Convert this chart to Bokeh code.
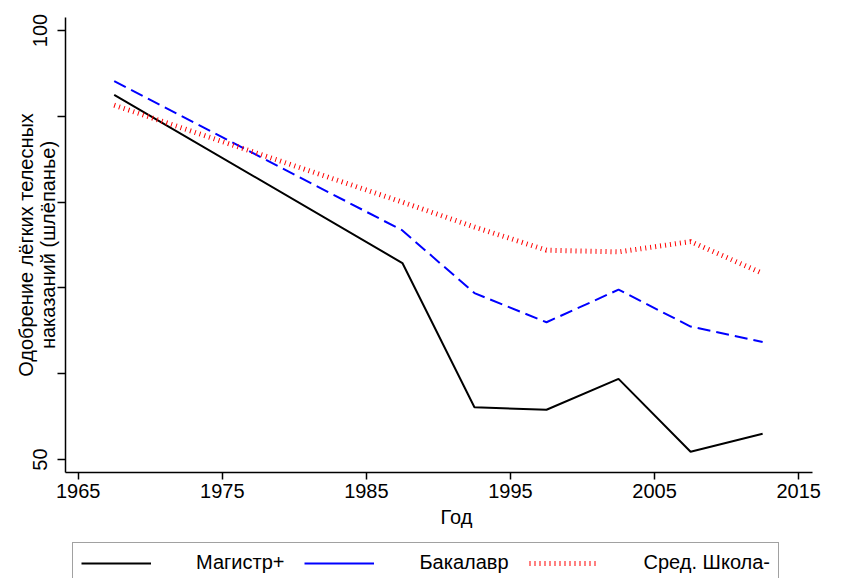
from bokeh.plotting import figure
from bokeh.layouts import column
from bokeh.models import FixedTicker, Range1d, Legend, LegendItem, Title
from bokeh.embed import file_html
from bokeh.resources import INLINE

# ---- data ----
years = [1967.5, 1987.5, 1992.5, 1997.5, 2002.5, 2007.5, 2012.5]
masters = [92.5, 72.9, 56.1, 55.8, 59.4, 50.9, 53.0]
bachelor = [94.1, 76.7, 69.4, 66.0, 69.8, 65.5, 63.7]
highschool = [91.3, 80.0, 77.1, 74.4, 74.2, 75.4, 71.7]
series_names = ["Магистр+", "Бакалавр", "Сред. Школа-"]
x_ticks = [1965, 1975, 1985, 1995, 2005, 2015]
y_ticks = [50, 60, 70, 80, 90, 100]
y_tick_labels = {50: "50", 60: "", 70: "", 80: "", 90: "", 100: "100"}
x_title = "Год"
y_title = "Одобрение лёгких телесных\nнаказаний (шлёпанье)"

FONT = "Liberation Sans"
STYLES = [dict(line_color="black", line_width=2),
          dict(line_color="blue", line_width=2, line_dash="13 6"),
          dict(line_color="red", line_width=5, line_dash="1 4")]
KEY_STYLES = [dict(line_color="black", line_width=2),
              dict(line_color="blue", line_width=2),
              dict(line_color="red", line_width=5, line_dash="1 4")]

p = figure(width=849, height=539, output_backend="svg", toolbar_location=None,
           x_range=Range1d(1964.12, 2015.96), y_range=Range1d(48.49, 101.52),
           min_border_left=65, min_border_right=37, min_border_top=17,
           min_border_bottom=67)
p.xgrid.visible = False
p.ygrid.visible = False
p.outline_line_color = None
p.background_fill_color = "white"
p.border_fill_color = "white"

xa = p.xaxis[0]
xa.ticker = FixedTicker(ticks=x_ticks, minor_ticks=[])
ya = p.yaxis[0]
ya.ticker = FixedTicker(ticks=y_ticks, minor_ticks=[])
ya.major_label_overrides = y_tick_labels
ya.major_label_orientation = "vertical"

for ax in (xa, ya):
    ax.axis_line_color = "black"
    ax.axis_line_width = 1.5
    ax.major_tick_line_color = "black"
    ax.major_tick_line_width = 1.5
    ax.major_tick_in = 0
    ax.minor_tick_in = 0
    ax.minor_tick_out = 0
    ax.major_label_text_font = FONT
    ax.major_label_text_font_size = "20px"
    ax.major_label_text_color = "black"
    ax.axis_label_text_font = FONT
    ax.axis_label_text_font_size = "20px"
    ax.axis_label_text_font_style = "normal"
    ax.axis_label_text_color = "black"
xa.major_tick_out = 7
xa.major_label_standoff = 4
ya.major_tick_out = 8
ya.major_label_standoff = 10
ya.axis_label = y_title
ya.axis_label_text_line_height = 1.0
ya.axis_label_standoff = -28

# x-axis title, placed slightly right of centre as in the reference
p.add_layout(Title(text=x_title, align="left", offset=375, standoff=10,
                   vertical_align="top", text_font=FONT, text_font_size="20px",
                   text_font_style="normal", text_color="black"), "below")

# ---- series ----
for vals, st in zip([masters, bachelor, highschool], STYLES):
    p.line(years, vals, **st)

# ---- legend strip below the chart ----
lg = figure(width=849, height=39, output_backend="svg", toolbar_location=None,
            x_range=Range1d(0, 1), y_range=Range1d(0, 1),
            x_axis_type=None, y_axis_type=None, min_border=0)
lg.xgrid.visible = False
lg.ygrid.visible = False
lg.outline_line_color = None
lg.background_fill_color = "white"
lg.border_fill_color = "white"
keys = [lg.line([float("nan")], [float("nan")], **st) for st in KEY_STYLES]
legend = Legend(items=[LegendItem(label=n, renderers=[r]) for n, r in zip(series_names, keys)],
                orientation="horizontal", location=(7, -5),
                glyph_width=70, glyph_height=20, label_standoff=45, spacing=20,
                padding=8, margin=0, label_text_font=FONT, label_text_font_size="20px",
                label_text_color="black", border_line_color="#444444",
                border_line_width=1, background_fill_color="white", background_fill_alpha=1)
lg.add_layout(legend, "center")

page = column(p, lg, spacing=0)
open("out.html", "w").write(file_html(page, INLINE))
